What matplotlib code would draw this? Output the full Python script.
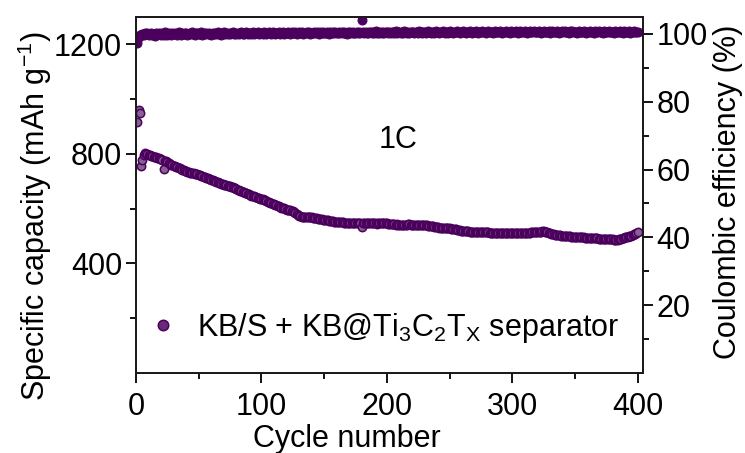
import numpy as np
import matplotlib
matplotlib.use("Agg")
import matplotlib.pyplot as plt
from matplotlib.ticker import MultipleLocator, FixedLocator

plt.rcParams['font.family'] = ['Liberation Sans', 'DejaVu Sans']
plt.rcParams['mathtext.fontset'] = 'custom'
plt.rcParams['mathtext.rm'] = 'Liberation Sans'
plt.rcParams['mathtext.default'] = 'regular'

# discharge capacity (mAh/g), cycles 1-400
capacity = [
    915, 960, 948, 756, 778, 795, 802, 801, 798, 797, 795, 793, 792, 790, 789, 787, 786, 784, 783, 781,
    778, 745, 775, 773, 770, 767, 763, 761, 759, 757, 755, 753, 751, 749, 747, 745, 743, 741, 739, 737,
    735, 734, 732, 731, 730, 729, 728, 727, 725, 724, 722, 720, 719, 717, 715, 713, 712, 710, 708, 706,
    704, 702, 700, 698, 697, 695, 693, 691, 689, 688, 686, 685, 684, 683, 682, 680, 678, 676, 674, 672,
    670, 668, 666, 664, 662, 660, 658, 656, 654, 652, 650, 648, 647, 645, 643, 641, 640, 638, 637, 635,
    634, 632, 630, 628, 626, 624, 622, 620, 618, 616, 614, 612, 610, 608, 606, 604, 603, 601, 599, 597,
    596, 595, 594, 592, 590, 587, 584, 581, 578, 575, 573, 571, 570, 569, 568, 568, 569, 570, 569, 568,
    567, 566, 566, 565, 564, 563, 562, 561, 560, 559, 558, 557, 557, 556, 555, 555, 554, 553, 553, 552,
    552, 551, 551, 550, 550, 549, 549, 548, 548, 548, 547, 547, 547, 548, 548, 547, 547, 546, 546, 532,
    547, 548, 548, 549, 548, 547, 547, 546, 546, 546, 546, 545, 546, 546, 547, 547, 546, 546, 546, 546,
    545, 545, 544, 544, 543, 543, 542, 543, 542, 541, 541, 540, 541, 541, 542, 542, 543, 543, 542, 541,
    541, 541, 540, 540, 540, 540, 541, 541, 540, 539, 539, 539, 538, 538, 537, 536, 535, 534, 533, 532,
    532, 531, 531, 530, 530, 529, 529, 528, 528, 528, 527, 527, 526, 525, 524, 523, 522, 521, 520, 519,
    519, 518, 518, 517, 517, 516, 516, 516, 515, 515, 515, 515, 514, 514, 514, 514, 515, 515, 514, 514,
    514, 513, 513, 513, 512, 512, 512, 512, 511, 511, 511, 511, 512, 512, 512, 511, 511, 511, 512, 512,
    512, 512, 512, 511, 511, 511, 511, 511, 512, 512, 512, 513, 513, 513, 514, 514, 514, 515, 515, 515,
    516, 516, 516, 517, 517, 516, 515, 514, 512, 510, 508, 507, 506, 505, 504, 504, 503, 503, 502, 502,
    501, 501, 500, 500, 499, 499, 498, 498, 497, 497, 497, 496, 496, 496, 495, 495, 495, 494, 494, 494,
    494, 493, 493, 493, 492, 492, 492, 492, 491, 491, 491, 490, 490, 490, 489, 489, 489, 488, 488, 488,
    487, 487, 487, 486, 488, 490, 491, 493, 494, 495, 496, 498, 499, 500, 502, 504, 506, 509, 512, 515,
]

# coulombic efficiency (%), cycles 1-400
efficiency = [
    97.3, 99.0, 99.6, 99.8, 100.1, 99.7, 100.2, 99.9, 100.3, 99.6, 100.0, 100.4, 99.8, 100.1, 99.5, 100.2, 99.9, 100.3, 100.0, 99.7,
    100.2, 99.8, 100.5, 100.0, 99.7, 100.3, 100.1, 99.6, 100.4, 99.9, 100.2, 100.0, 99.8, 100.5, 100.1, 99.7, 100.3, 99.9, 100.2, 100.4,
    99.8, 100.1, 100.3, 99.9, 100.6, 100.0, 99.8, 100.2, 100.4, 99.9, 100.1, 100.5, 99.8, 100.2, 100.0, 100.4, 99.9, 100.3, 100.1, 99.8,
    100.4, 100.0, 100.2, 99.9, 100.5, 100.1, 100.3, 99.8, 100.2, 100.6, 100.0, 100.3, 99.9, 100.4, 100.1, 100.2, 100.5, 99.9, 100.3, 100.1,
    100.4, 100.0, 100.2, 100.6, 100.1, 99.9, 100.3, 100.5, 100.0, 100.2, 100.4, 100.1, 100.6, 99.9, 100.3, 100.2, 100.5, 100.0, 100.4, 100.2,
    100.1, 100.5, 100.3, 100.0, 100.4, 100.6, 100.2, 100.1, 100.5, 100.3, 99.9, 100.4, 100.2, 100.6, 100.1, 100.3, 100.5, 100.0, 100.4, 100.2,
    100.6, 100.3, 100.1, 100.5, 100.2, 100.4, 100.7, 100.1, 100.3, 100.5, 100.2, 100.6, 100.0, 100.4, 100.3, 100.6, 100.2, 100.5, 100.1, 100.4,
    100.3, 100.7, 100.2, 100.5, 100.4, 100.1, 100.6, 100.3, 100.5, 100.2, 100.4, 100.7, 100.3, 100.1, 100.5, 100.4, 100.6, 100.2, 100.5, 100.3,
    100.4, 100.6, 100.2, 100.5, 100.3, 100.7, 100.4, 100.1, 100.6, 100.3, 100.5, 100.2, 100.6, 100.4, 100.3, 100.7, 100.2, 100.5, 100.4, 104.0,
    100.5, 100.3, 100.6, 100.4, 100.2, 100.7, 100.5, 100.3, 100.6, 100.4, 100.8, 100.3, 100.5, 100.2, 100.6, 100.4, 100.7, 100.3, 100.5, 100.6,
    100.4, 100.7, 100.3, 100.5, 100.6, 100.2, 100.8, 100.4, 100.5, 100.7, 100.3, 100.6, 100.4, 100.8, 100.5, 100.3, 100.6, 100.4, 100.7, 100.5,
    100.6, 100.3, 100.7, 100.5, 100.4, 100.8, 100.6, 100.3, 100.5, 100.7, 100.4, 100.6, 100.9, 100.5, 100.3, 100.7, 100.6, 100.4, 100.8, 100.5,
    100.6, 100.4, 100.7, 100.5, 100.8, 100.3, 100.6, 100.7, 100.4, 100.9, 100.5, 100.6, 100.3, 100.7, 100.5, 100.8, 100.6, 100.4, 100.7, 100.5,
    100.8, 100.6, 100.4, 100.7, 100.5, 100.9, 100.6, 100.4, 100.7, 100.5, 100.8, 100.6, 100.3, 100.7, 100.6, 100.8, 100.5, 100.7, 100.4, 100.6,
    100.9, 100.5, 100.7, 100.6, 100.4, 100.8, 100.6, 100.7, 100.5, 100.9, 100.6, 100.4, 100.7, 100.5, 100.8, 100.6, 100.7, 100.4, 100.8, 100.6,
    100.5, 100.7, 100.9, 100.6, 100.4, 100.8, 100.6, 100.7, 100.5, 100.8, 100.6, 100.4, 100.7, 101.0, 100.6, 100.5, 100.8, 100.6, 100.7, 100.5,
    100.8, 100.6, 100.4, 100.7, 100.9, 100.5, 100.7, 100.6, 100.8, 100.4, 100.6, 100.9, 100.5, 100.7, 100.6, 100.8, 100.4, 100.7, 100.5, 100.9,
    100.6, 100.8, 100.5, 100.7, 100.4, 100.8, 100.6, 100.9, 100.5, 100.7, 100.6, 100.3, 100.8, 100.6, 100.7, 100.5, 100.9, 100.6, 100.4, 100.7,
    100.5, 100.8, 100.6, 100.7, 100.4, 100.9, 100.6, 100.5, 100.8, 100.6, 100.7, 100.3, 100.8, 100.5, 100.7, 100.6, 100.9, 100.5, 100.7, 100.6,
    100.4, 100.8, 100.6, 100.7, 100.5, 100.9, 100.6, 100.4, 100.8, 100.5, 100.7, 100.6, 100.8, 100.4, 100.7, 100.6, 100.9, 100.5, 100.7, 100.6,
]

cycles = np.arange(1, len(capacity) + 1)

purple = '#4a005c'
fs = 22

fig = plt.figure(figsize=(7.45, 4.53), dpi=100)
ax = fig.add_axes([0.1826, 0.1766, 0.68, 0.7859])
ax2 = ax.twinx()

ax.plot(cycles, capacity, linestyle='none', marker='o', markersize=6.0,
        markerfacecolor='#8a6094', markeredgecolor=purple, markeredgewidth=1.1,
        label=r'KB/S + KB@Ti$_3$C$_2$T$_X$ separator', zorder=3)
ax2.plot(cycles, efficiency, linestyle='none', marker='o', markersize=6.4,
         markerfacecolor=purple, markeredgecolor=purple, markeredgewidth=0.8)

ax.set_xlim(0, 404)
ax.set_ylim(0, 1300)
ax2.set_ylim(0, 105)

ax.xaxis.set_major_locator(MultipleLocator(100))
ax.xaxis.set_minor_locator(MultipleLocator(50))
ax.yaxis.set_major_locator(FixedLocator([400, 800, 1200]))
ax.yaxis.set_minor_locator(FixedLocator([200, 600, 1000]))
ax2.yaxis.set_major_locator(FixedLocator([20, 40, 60, 80, 100]))
ax2.yaxis.set_minor_locator(FixedLocator([10, 30, 50, 70, 90]))

for a in (ax, ax2):
    a.tick_params(which='major', direction='out', length=7, width=1.3, labelsize=fs, pad=3)
    a.tick_params(which='minor', direction='out', length=4, width=1.3)
    for s in a.spines.values():
        s.set_linewidth(1.3)
        s.set_color('#1a1a1a')
ax.tick_params(axis='both', which='both', top=False, right=False)
ax.tick_params(axis='x', which='major', pad=7)
ax2.tick_params(axis='y', which='both', left=False, right=True)

ax.set_xlabel('Cycle number', fontsize=fs)
ax.set_ylabel(r'Specific capacity (mAh g$^{-1}$)', fontsize=fs)
ax2.set_ylabel('Coulombic efficiency (%)', fontsize=fs)
ax.xaxis.set_label_coords(0.416, -0.142)
ax.yaxis.set_label_coords(-0.162, 0.44)
ax2.yaxis.set_label_coords(1.138, 0.51)

ax.text(209, 850, '1C', fontsize=fs, ha='center', va='center')

leg = ax.legend(loc='center left', bbox_to_anchor=(0.024, 0.126), frameon=False,
                fontsize=fs, markerscale=1.25, handletextpad=0.6, handlelength=1.0,
                borderpad=0, borderaxespad=0)
for h in leg.legend_handles:
    h.set_markerfacecolor('#6a2a7a')

fig.savefig('out.png', dpi=100)
